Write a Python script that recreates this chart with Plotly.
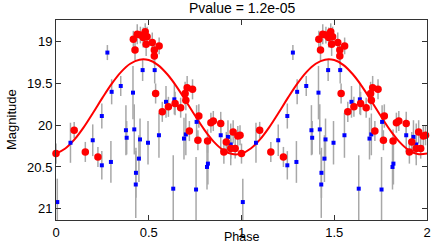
import plotly.graph_objects as go

# ---- data (phase in [0,1), folded light curve; plotted twice) ----
blue_phase = [0.007, 0.078, 0.198, 0.247, 0.247, 0.277, 0.296, 0.300, 0.349, 0.377,
              0.381, 0.415, 0.422, 0.430, 0.431, 0.447, 0.453, 0.467, 0.496, 0.532,
              0.555, 0.593, 0.632, 0.638, 0.690, 0.700, 0.755, 0.758, 0.814, 0.819,
              0.888, 0.927, 0.942]
blue_mag = [20.92, 20.21, 20.18, 19.89, 20.48, 19.13, 20.44, 19.60, 19.53, 20.06,
            20.15, 19.61, 20.05, 20.71, 20.57, 20.40, 20.17, 19.34, 20.21, 19.34,
            20.12, 19.72, 20.76, 19.69, 20.16, 20.11, 20.77, 19.96, 20.50, 20.46,
            20.12, 20.14, 20.23]
blue_err = [0.28, 0.24, 0.19, 0.15, 0.17, 0.09, 0.25, 0.15, 0.12, 0.30,
            0.20, 0.32, 0.30, 0.40, 0.30, 0.28, 0.25, 0.13, 0.26, 0.16,
            0.27, 0.19, 0.40, 0.18, 0.25, 0.25, 0.39, 0.20, 0.27, 0.25,
            0.20, 0.20, 0.25]

red_phase = [0.000, 0.098, 0.158, 0.226, 0.417, 0.426, 0.438, 0.455, 0.470, 0.481,
             0.491, 0.486, 0.519, 0.530, 0.530, 0.556, 0.537, 0.573, 0.606, 0.642,
             0.672, 0.696, 0.700, 0.707, 0.736, 0.770, 0.719, 0.765, 0.817, 0.835,
             0.848, 0.888, 0.905, 0.918, 0.942, 0.955, 0.966, 0.980, 0.992]
red_mag = [20.34, 20.06, 20.32, 20.38, 18.97, 19.10, 18.91, 18.92, 18.95, 18.88,
           18.94, 19.03, 19.01, 19.10, 19.17, 19.05, 19.62, 19.84, 19.78, 19.74,
           19.79, 19.62, 19.70, 19.55, 19.57, 19.89, 20.07, 20.18, 20.19, 19.97,
           19.95, 19.98, 20.32, 20.20, 20.28, 20.08, 20.28, 20.13, 20.12]
red_err = [0.12, 0.10, 0.12, 0.12, 0.10, 0.12, 0.12, 0.10, 0.12, 0.10,
           0.12, 0.14, 0.12, 0.12, 0.10, 0.10, 0.12, 0.12, 0.12, 0.14,
           0.12, 0.14, 0.12, 0.14, 0.12, 0.14, 0.12, 0.12, 0.14, 0.12,
           0.12, 0.14, 0.14, 0.12, 0.12, 0.14, 0.12, 0.12, 0.12]

curve_phase = [0.00, 0.05, 0.10, 0.15, 0.20, 0.25, 0.30, 0.35, 0.40, 0.45,
               0.50, 0.55, 0.60, 0.65, 0.70, 0.75, 0.80, 0.85, 0.90, 0.95]
curve_mag = [20.340, 20.279, 20.170, 20.023, 19.851, 19.673, 19.505, 19.364, 19.264, 19.215,
             19.220, 19.280, 19.390, 19.537, 19.709, 19.887, 20.055, 20.196, 20.296, 20.345]

x_ticks = [0, 0.5, 1, 1.5, 2]
x_ticktext = ["0", "0.5", "1", "1.5", "2"]
y_ticks = [19, 19.5, 20, 20.5, 21]
y_ticktext = ["19", "19.5", "20", "20.5", "21"]
title_text = "Pvalue = 1.2e-05"


def two_cycles(vals, shift=True):
    if shift:
        return list(vals) + [v + 1 for v in vals]
    return list(vals) + list(vals)


FONT = "Liberation Sans, Arial, Helvetica, sans-serif"
ERR_COL = "#a8a8a8"

fig = go.Figure()

# error bars (clipped to axes)
for ph, mg, er in [(blue_phase, blue_mag, blue_err), (red_phase, red_mag, red_err)]:
    fig.add_trace(go.Scatter(
        x=two_cycles(ph), y=two_cycles(mg, False), mode="markers",
        marker=dict(size=1, color="rgba(0,0,0,0)"),
        error_y=dict(type="data", array=two_cycles(er, False), color=ERR_COL,
                     thickness=1.5, width=0),
        showlegend=False, hoverinfo="skip"))

# model curve
fig.add_trace(go.Scatter(
    x=two_cycles(curve_phase) + [2.0], y=two_cycles(curve_mag, False) + [curve_mag[0]],
    mode="lines", line=dict(color="#ff0000", width=2, shape="spline"),
    showlegend=False, hoverinfo="skip"))

# blue points
fig.add_trace(go.Scatter(
    x=two_cycles(blue_phase), y=two_cycles(blue_mag, False), mode="markers",
    marker=dict(size=4, color="#0000ff", symbol="square"),
    cliponaxis=False, showlegend=False))

# red points
fig.add_trace(go.Scatter(
    x=two_cycles(red_phase), y=two_cycles(red_mag, False), mode="markers",
    marker=dict(size=7.5, color="#ff0000", line=dict(width=0)),
    cliponaxis=False, showlegend=False))

axis_common = dict(
    showgrid=False, zeroline=False, showline=True, linecolor="#333333", linewidth=1,
    mirror="ticks", ticks="inside", ticklen=5, tickcolor="#333333", tickwidth=1,
    tickfont=dict(family=FONT, size=13, color="#000000"),
)

fig.update_layout(
    width=436, height=245,
    margin=dict(l=56, r=9, t=20, b=25),
    paper_bgcolor="white", plot_bgcolor="white",
    xaxis=dict(range=[0, 2], tickvals=x_ticks, ticktext=x_ticktext, automargin=False,
               **axis_common),
    yaxis=dict(range=[21.135, 18.74], tickvals=y_ticks, ticktext=y_ticktext,
               automargin=False, **axis_common),
    annotations=[
        dict(text=title_text, xref="paper", yref="paper", x=0.5, y=1, yshift=12,
             xanchor="center", yanchor="middle", showarrow=False,
             font=dict(family=FONT, size=14, color="#000000")),
        dict(text="Phase", xref="paper", yref="paper", x=0.5, y=0, yshift=-25,
             xanchor="center", yanchor="bottom", showarrow=False, borderpad=0,
             font=dict(family=FONT, size=12.5, color="#000000")),
        dict(text="Magnitude", xref="paper", yref="paper", x=0, y=0.5, xshift=-45,
             xanchor="center", yanchor="middle", textangle=-90, showarrow=False,
             font=dict(family=FONT, size=13, color="#000000")),
    ],
)

fig.write_html("out.html", config={"displayModeBar": False},
               post_script="document.body.style.margin='0px';")
